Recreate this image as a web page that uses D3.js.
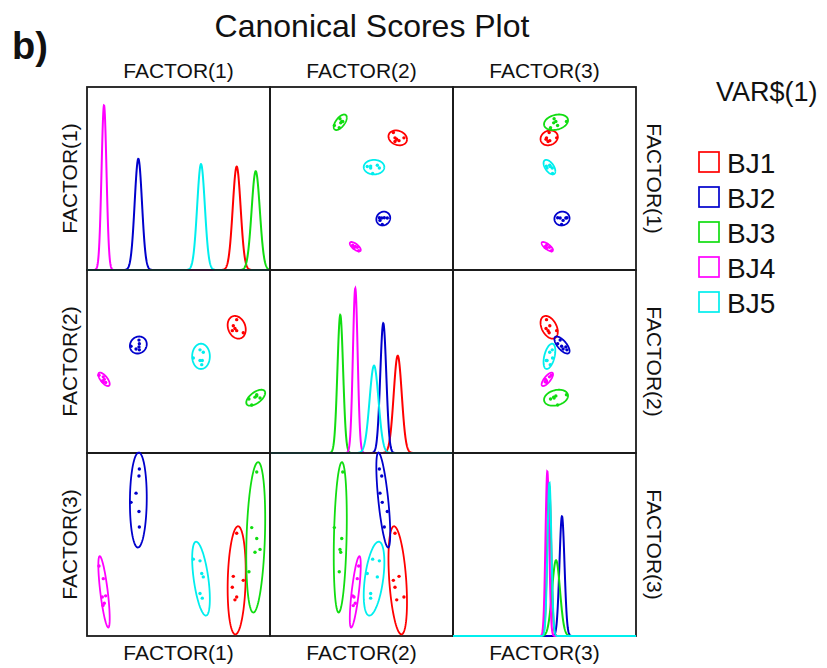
<!DOCTYPE html>
<meta charset="utf-8">
<style>
body { margin: 0; background: #fff; }
text { font-family: "Liberation Sans", Arial, sans-serif; fill: #111; }
</style>
<body></body>
<script src="https://cdn.jsdelivr.net/npm/d3@7"></script>
<script>

// groups of VAR$(1)
var groups = ["BJ1", "BJ2", "BJ3", "BJ4", "BJ5"];
var colors = ["#ff0000", "#0000cc", "#11dd11", "#ff00ff", "#00eeee"];
var factors = ["FACTOR(1)", "FACTOR(2)", "FACTOR(3)"];

// group means of the canonical scores
var mean1 = [6.36, -4.39, 8.44, -8.14, 2.46];
var mean2 = [3.96, 2.38, -2.32, -0.68, 1.37];
var mean3 = [0.51, 1.91, 1.26, 0.31, 0.54];

// within group spread (ellipses)
var sd1 = [0.43, 0.40, 0.45, 0.27, 0.42];
var sd2 = [0.44, 0.33, 0.31, 0.26, 0.49];
var sd3 = [0.41, 0.36, 0.57, 0.27, 0.28];

// spread of the curves on the diagonal
var dens1 = [0.43, 0.40, 0.45, 0.27, 0.42];
var dens2 = [0.44, 0.33, 0.31, 0.26, 0.49];
var dens3 = [0.22, 0.275, 0.435, 0.20, 0.215];

// within group correlations
var r12 = [-0.2, 0.1, 0.6, -0.7, 0.0];
var r13 = [0.15, 0.05, 0.25, -0.75, -0.55];
var r23 = [-0.4, -0.7, 0.25, 0.75, 0.45];

// case scores, one list per group
var score1 = [
  [6.36, 5.99, 7.08, 5.88, 6.36, 6.17],
  [-4.28, -4.32, -4.64, -5.19, -4.32, -4.28],
  [8.55, 8.0, 8.55, 8.91, 8.36, 7.70],
  [-8.69, -8.22, -7.96, -8.33, -8.11, -8.25],
  [1.62, 2.35, 2.54, 2.71, 2.35, 2.60]
];
var score2 = [
  [3.66, 4.10, 3.48, 3.66, 4.64, 3.85],
  [1.95, 2.21, 2.02, 2.27, 2.82, 2.49],
  [-2.05, -2.97, -2.16, -2.35, -2.27, -2.43],
  [-0.31, -0.46, -0.96, -0.82, -0.68, -0.90],
  [1.22, 1.95, 0.63, 1.73, 1.0, 1.0]
];
var score3 = [
  [1.33, 0.58, 0.51, 0.39, 0.22, 0.17],
  [2.45, 2.33, 2.03, 1.87, 1.71, 1.44],
  [2.40, 1.43, 1.24, 1.05, 1.0, 0.66],
  [0.76, 0.54, 0.24, 0.22, 0.11, 0.07],
  [0.88, 0.85, 0.63, 0.57, 0.28, 0.20]
];

// axis ranges
var xDomain = [-10, 10];
var yDomains = [[-11.25, 13.14], [-7.25, 9.07], [-0.46, 2.73]];

var means = [mean1, mean2, mean3],
    sds = [sd1, sd2, sd3],
    dens = [dens1, dens2, dens3],
    scores = [score1, score2, score3];

function corr(a, b) {
  var key = Math.min(a, b) + "" + Math.max(a, b);
  return {"01": r12, "02": r13, "12": r23}[key];
}

var width = 827, height = 668;
var x0 = 87, y0 = 87, size = 183;
var k = 2.3; // ellipse size in sd

var svg = d3.select("body").append("svg")
    .attr("width", width)
    .attr("height", height);

var xScale = [0, 1, 2].map(function(j) {
  return d3.scaleLinear().domain(xDomain).range([x0 + j * size, x0 + (j + 1) * size]);
});
var yScale = [0, 1, 2].map(function(i) {
  return d3.scaleLinear().domain(yDomains[i]).range([y0 + (i + 1) * size, y0 + i * size]);
});

function pdf(x, m, s) {
  var z = (x - m) / s;
  return Math.exp(-0.5 * z * z) / (s * Math.sqrt(2 * Math.PI));
}

var xs = d3.range(0, 801).map(function(n) { return xDomain[0] + n * (xDomain[1] - xDomain[0]) / 800; });
var ts = d3.range(0, 97).map(function(n) { return n * 2 * Math.PI / 96; });

for (var i = 0; i < 3; i++) {
  for (var j = 0; j < 3; j++) {
    var g = svg.append("g");
    var x = xScale[j], y = yScale[i];

    g.append("rect")
      .attr("x", x0 + j * size)
      .attr("y", y0 + i * size)
      .attr("width", size)
      .attr("height", size)
      .attr("fill", "none")
      .attr("stroke", "#1a1a1a")
      .attr("stroke-width", 1.8);

    if (i == j) {
      // density curves
      var peak = d3.max(dens[i], function(s) { return 1 / (s * Math.sqrt(2 * Math.PI)); });
      var yd = d3.scaleLinear().domain([0, peak / 0.9]).range([y0 + (i + 1) * size, y0 + i * size]);
      groups.forEach(function(name, gi) {
        var line = d3.line()
          .x(function(v) { return x(v); })
          .y(function(v) { return yd(pdf(v, means[i][gi], dens[i][gi])); });
        g.append("path")
          .attr("d", line(xs))
          .attr("fill", "none")
          .attr("stroke", colors[gi])
          .attr("stroke-width", 2);
      });
    } else {
      var r = corr(i, j);
      groups.forEach(function(name, gi) {
        var mx = means[j][gi], my = means[i][gi],
            sx = sds[j][gi], sy = sds[i][gi], rr = r[gi];
        var ell = d3.line()
          .x(function(t) { return x(mx + k * sx * Math.cos(t)); })
          .y(function(t) { return y(my + k * sy * (rr * Math.cos(t) + Math.sqrt(1 - rr * rr) * Math.sin(t))); });
        g.append("path")
          .attr("d", ell(ts))
          .attr("fill", "none")
          .attr("stroke", colors[gi])
          .attr("stroke-width", 1.8);

        g.selectAll(null)
          .data(d3.range(scores[j][gi].length))
          .enter().append("circle")
            .attr("cx", function(n) { return x(scores[j][gi][n]); })
            .attr("cy", function(n) { return y(scores[i][gi][n]); })
            .attr("r", 1.7)
            .attr("fill", colors[gi]);
      });
    }
  }
}

// labels round the matrix
factors.forEach(function(f, n) {
  var c = x0 + (n + 0.5) * size;
  svg.append("text").attr("x", c).attr("y", 78)
    .attr("text-anchor", "middle").attr("font-size", 21).text(f);
  svg.append("text").attr("x", c).attr("y", 660)
    .attr("text-anchor", "middle").attr("font-size", 21).text(f);
  svg.append("text")
    .attr("transform", "translate(77," + c + ") rotate(-90)")
    .attr("text-anchor", "middle").attr("font-size", 21).text(f);
  svg.append("text")
    .attr("transform", "translate(647," + c + ") rotate(90)")
    .attr("text-anchor", "middle").attr("font-size", 21).text(f);
});

svg.append("text")
  .attr("x", 372).attr("y", 37)
  .attr("text-anchor", "middle")
  .attr("font-size", 32)
  .text("Canonical Scores Plot");

svg.append("text")
  .attr("x", 12).attr("y", 59)
  .attr("font-size", 38)
  .attr("font-weight", "bold")
  .text("b)");

// legend
svg.append("text")
  .attr("x", 716).attr("y", 101)
  .attr("font-size", 27)
  .text("VAR$(1)");

var leg = svg.selectAll(".legend")
  .data(groups)
  .enter().append("g")
    .attr("class", "legend")
    .attr("transform", function(d, n) { return "translate(0," + (n * 35) + ")"; });

leg.append("rect")
  .attr("x", 699).attr("y", 152)
  .attr("width", 20).attr("height", 20)
  .attr("fill", "none")
  .attr("stroke", function(d, n) { return colors[n]; })
  .attr("stroke-width", 1.7);

leg.append("text")
  .attr("x", 727).attr("y", 173)
  .attr("font-size", 28)
  .text(function(d) { return d; });

</script>
